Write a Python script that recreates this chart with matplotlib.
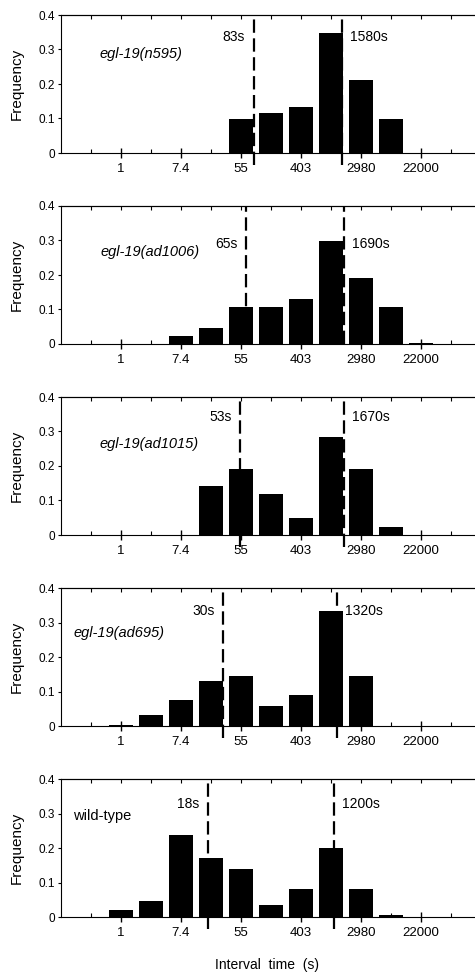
"""
Interval-time histograms (log-binned) for egl-19 alleles and wild type.
"""

import matplotlib as mpl
mpl.use('Agg')

import numpy as np
import matplotlib.pyplot as plt

plt.rcParams['font.family'] = ['Liberation Sans', 'DejaVu Sans']

# Bins are centred on e**k seconds, k = 0..10
bin_exp = np.arange(11)
tick_exp = [0, 2, 4, 6, 8, 10]
tick_labels = ['1', '7.4', '55', '403', '2980', '22000']
ytick_vals = [0, 0.1, 0.2, 0.3, 0.4]
ytick_labels = ['0', '0.1', '0.2', '0.3', '0.4']

strains = ['egl-19(n595)', 'egl-19(ad1006)', 'egl-19(ad1015)', 'egl-19(ad695)', 'wild-type']

freq_n595 = [0, 0, 0, 0, 0.098, 0.115, 0.134, 0.348, 0.213, 0.098, 0]
freq_ad1006 = [0, 0, 0.023, 0.045, 0.107, 0.107, 0.129, 0.299, 0.192, 0.107, 0.002]
freq_ad1015 = [0, 0, 0, 0.142, 0.191, 0.119, 0.048, 0.284, 0.191, 0.024, 0]
freq_ad695 = [0.003, 0.031, 0.074, 0.130, 0.145, 0.058, 0.089, 0.334, 0.145, 0, 0]
freq_wt = [0.019, 0.045, 0.237, 0.170, 0.139, 0.034, 0.080, 0.200, 0.080, 0.005, 0]

# Fitted peak times (s)
short_peak = [83, 65, 53, 30, 18]
long_peak = [1580, 1690, 1670, 1320, 1200]

freqs = [freq_n595, freq_ad1006, freq_ad1015, freq_ad695, freq_wt]

# Layout bits (per panel)
peak_text_y = [0.335, 0.29, 0.342, 0.333, 0.328]
name_x = [-0.72, -0.67, -0.72, -1.6, -1.6]
name_y = [0.288, 0.266, 0.265, 0.27, 0.294]
dash_bottom = [-0.035, 0, -0.035, -0.035, -0.035]

W, H = 475., 972.
fig = plt.figure(figsize=(W / 100, H / 100), dpi=100)

for i in range(5):
    top_px = 15 + i * 191
    ax = fig.add_axes([61 / W, 1 - (top_px + 138) / H, 414 / W, 138 / H])

    ax.bar(bin_exp, freqs[i], width=0.83, color='black', zorder=2)

    for v in (short_peak[i], long_peak[i]):
        ax.plot([np.log(v)] * 2, [dash_bottom[i], 0.4], color='black', lw=1.6,
                ls=(0, (6, 2.5)), clip_on=False, zorder=3)
    ax.annotate('%ds' % short_peak[i], xy=(np.log(short_peak[i]), peak_text_y[i]),
                xytext=(-6, 0), textcoords='offset points', ha='right', va='center', fontsize=10)
    ax.annotate('%ds' % long_peak[i], xy=(np.log(long_peak[i]), peak_text_y[i]),
                xytext=(6, 0), textcoords='offset points', ha='left', va='center', fontsize=10)

    ax.text(name_x[i], name_y[i], strains[i], ha='left', va='center', fontsize=10.5,
            style='italic' if strains[i].startswith('egl') else 'normal')

    ax.set_xlim(-2, 11.8)
    ax.set_ylim(0, 0.4)

    ax.set_xticks(tick_exp)
    ax.set_xticklabels(tick_labels)
    ax.set_xticks(np.arange(-1, 12, 2), minor=True)
    ax.tick_params(axis='x', which='major', direction='inout', length=7, width=1,
                   top=False, labelsize=9.5, pad=4)
    ax.tick_params(axis='x', which='minor', direction='in', length=3, width=0.8, top=False)

    ax.set_yticks(ytick_vals)
    ax.set_yticklabels(ytick_labels)
    ax.tick_params(axis='y', direction='out', length=2.5, width=0.8, labelsize=8.5, pad=2)

    sec = ax.secondary_xaxis('top')
    sec.set_xticks(np.arange(-1, 12))
    sec.tick_params(axis='x', direction='in', length=3, width=0.8, labeltop=False)
    sec.spines['top'].set_linewidth(0.8)

    ax.spines['right'].set_visible(False)
    for s in ('left', 'bottom', 'top'):
        ax.spines[s].set_linewidth(0.8)

    ax.set_ylabel('Frequency', fontsize=11)
    ax.yaxis.set_label_coords(-0.089, 0.5)

fig.text(267 / W, 1 - 965 / H, 'Interval  time  (s)', ha='center', va='center', fontsize=10)

fig.savefig('out.png', dpi=100)
plt.close()
